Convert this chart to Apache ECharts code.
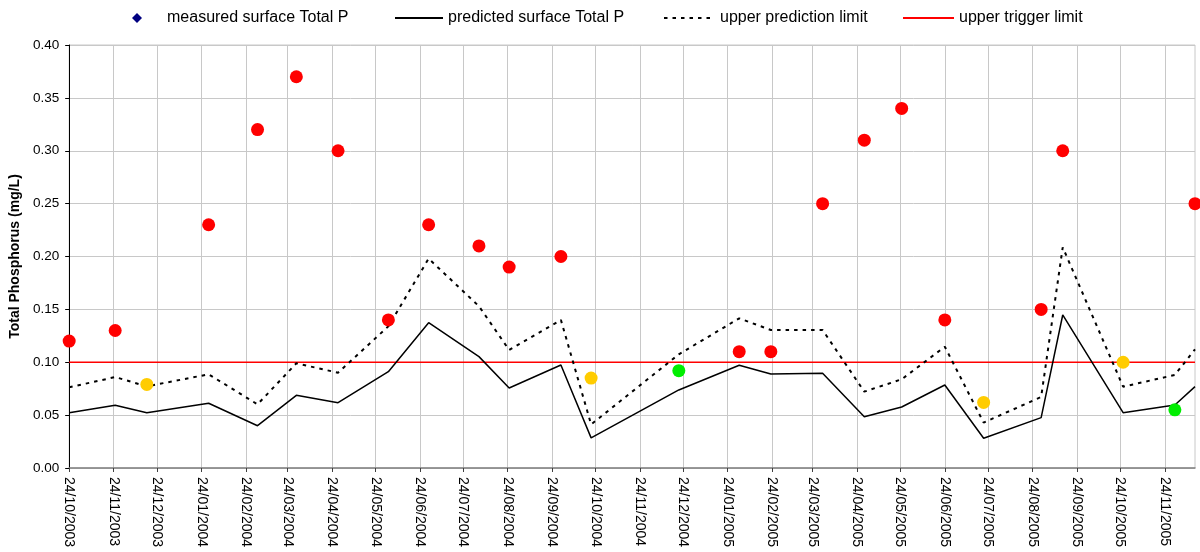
<!DOCTYPE html>
<html><head><meta charset="utf-8">
<script src="https://cdn.jsdelivr.net/npm/echarts@6/dist/echarts.min.js"></script>
<style>html,body{margin:0;padding:0;background:#fff}#chart{width:1200px;height:552px}</style>
</head><body><div id="chart"></div>
<script>
// ---- data ----
const sampleDates = ['24/10/2003','25/11/2003','17/12/2003','29/01/2004','03/03/2004','30/03/2004','28/04/2004',
  '02/06/2004','30/06/2004','04/08/2004','25/08/2004','30/09/2004','21/10/2004','21/12/2004','01/02/2005',
  '23/02/2005','31/03/2005','29/04/2005','25/05/2005','24/06/2005','21/07/2005','30/08/2005','14/09/2005',
  '26/10/2005','01/12/2005','15/12/2005'];
const measuredTP = [0.12,0.13,0.079,0.23,0.32,0.37,0.30,0.14,0.23,0.21,0.19,0.20,0.085,0.092,0.11,0.11,0.25,0.31,0.34,0.14,0.062,0.15,0.30,0.10,0.055,0.25];
const predictedTP = [0.0523,0.0593,0.0523,0.0612,0.040,0.0687,0.0618,0.0911,0.1374,0.1053,0.0757,0.0974,0.0285,0.0738,0.0971,0.0889,0.0895,0.0485,0.0577,0.0785,0.0281,0.0476,0.1447,0.0523,0.0596,0.0769];
const upperPredictionLimit = [0.0763,0.086,0.0772,0.0886,0.0602,0.099,0.0901,0.134,0.198,0.153,0.1116,0.140,0.0412,0.1075,0.1415,0.1305,0.1305,0.0722,0.0839,0.1147,0.0429,0.0672,0.2087,0.0769,0.088,0.1122];
const upperTriggerLimit = 0.10;
const tickLabels = ['24/10/2003','24/11/2003','24/12/2003','24/01/2004','24/02/2004','24/03/2004','24/04/2004',
  '24/05/2004','24/06/2004','24/07/2004','24/08/2004','24/09/2004','24/10/2004','24/11/2004','24/12/2004',
  '24/01/2005','24/02/2005','24/03/2005','24/04/2005','24/05/2005','24/06/2005','24/07/2005','24/08/2005',
  '24/09/2005','24/10/2005','24/11/2005'];
const axisStartLabel = '24/10/2003';
const axisEndLabel = '15/12/2005';
const seriesNames = ['measured surface Total P','predicted surface Total P','upper prediction limit','upper trigger limit'];

// ---- helpers ----
function parseDate(s){const p=s.split('/').map(Number);return Date.UTC(p[2],p[1]-1,p[0]);}
function fmtDate(ts){const d=new Date(ts);const z=n=>String(n).padStart(2,'0');return z(d.getUTCDate())+'/'+z(d.getUTCMonth()+1)+'/'+d.getUTCFullYear();}
function pointColor(i){
  if (measuredTP[i] > upperTriggerLimit) return '#ff0000';
  if (measuredTP[i] > upperPredictionLimit[i]) return '#ffcc00';
  return '#00ee00';
}
const xs = sampleDates.map(parseDate);
const xMin = parseDate(axisStartLabel), xMax = parseDate(axisEndLabel);
const tickVals = tickLabels.map(parseDate);
const FONT = "'Liberation Sans', Arial, sans-serif";

const chart = echarts.init(document.getElementById('chart'), null, {renderer:'canvas'});
function legendAt(name, left, w, h, extra){
  return Object.assign({data:[name], left:left, top:5, itemWidth:w, itemHeight:h, itemGap:0,
    textStyle:{fontSize:16, color:'#000', fontFamily:FONT}, selectedMode:false,
    itemStyle:{opacity:0}}, extra || {});
}
chart.setOption({
  animation:false,
  backgroundColor:'#fff',
  legend:[
    legendAt(seriesNames[0], 127, 10, 10, {
      data:[{name:seriesNames[0], icon:'diamond'}],
      itemStyle:{color:'#000080', opacity:1},
      textStyle:{fontSize:16, color:'#000', fontFamily:FONT, padding:[0,0,0,20]}
    }),
    legendAt(seriesNames[1], 389, 48, 14),
    legendAt(seriesNames[2], 658, 51, 14),
    legendAt(seriesNames[3], 897, 51, 14)
  ],
  grid:{left:69, right:5, top:45, bottom:84, show:true, borderColor:'#c8c8c8', borderWidth:1, containLabel:false},
  xAxis:{
    type:'value', min:xMin, max:xMax,
    axisLine:{show:true, onZero:false, lineStyle:{color:'#808080', width:1.5}},
    axisTick:{show:true, length:4, customValues:tickVals, lineStyle:{color:'#404040'}},
    axisLabel:{customValues:tickVals, rotate:-90, margin:9, fontSize:14, color:'#000', fontFamily:FONT,
      formatter:v=>fmtDate(v)},
    splitLine:{show:true, lineStyle:{color:'#c8c8c8', width:1}}
  },
  yAxis:{
    type:'value', min:0, max:0.4, interval:0.05,
    name:'Total Phosphorus (mg/L)', nameLocation:'middle', nameGap:40, nameRotate:90,
    nameTextStyle:{fontSize:14, fontWeight:'bold', color:'#000', fontFamily:FONT},
    axisLine:{show:true, lineStyle:{color:'#000', width:1}},
    axisTick:{show:true, length:4, lineStyle:{color:'#000'}},
    axisLabel:{formatter:v=>v.toFixed(2), fontSize:13.5, color:'#000', margin:10, fontFamily:FONT},
    splitLine:{show:true, lineStyle:{color:'#c8c8c8', width:1}}
  },
  series:[
    {name:seriesNames[0], type:'scatter', symbol:'circle', symbolSize:13, z:5,
      itemStyle:{color:'#000080', opacity:1},
      data: xs.map((x,i)=>({value:[x, measuredTP[i]], itemStyle:{color:pointColor(i), opacity:1}}))},
    {name:seriesNames[1], type:'line', symbol:'none', z:3,
      lineStyle:{color:'#000', width:1.5}, itemStyle:{color:'#000'},
      data: xs.map((x,i)=>[x, predictedTP[i]])},
    {name:seriesNames[2], type:'line', symbol:'none', z:3,
      lineStyle:{color:'#000', width:2, type:[3.5,5]}, itemStyle:{color:'#000'},
      data: xs.map((x,i)=>[x, upperPredictionLimit[i]])},
    {name:seriesNames[3], type:'line', symbol:'none', z:2,
      lineStyle:{color:'#ff0000', width:1.5}, itemStyle:{color:'#ff0000'},
      data: [[xMin, upperTriggerLimit],[xMax, upperTriggerLimit]]}
  ]
});
</script></body></html>
